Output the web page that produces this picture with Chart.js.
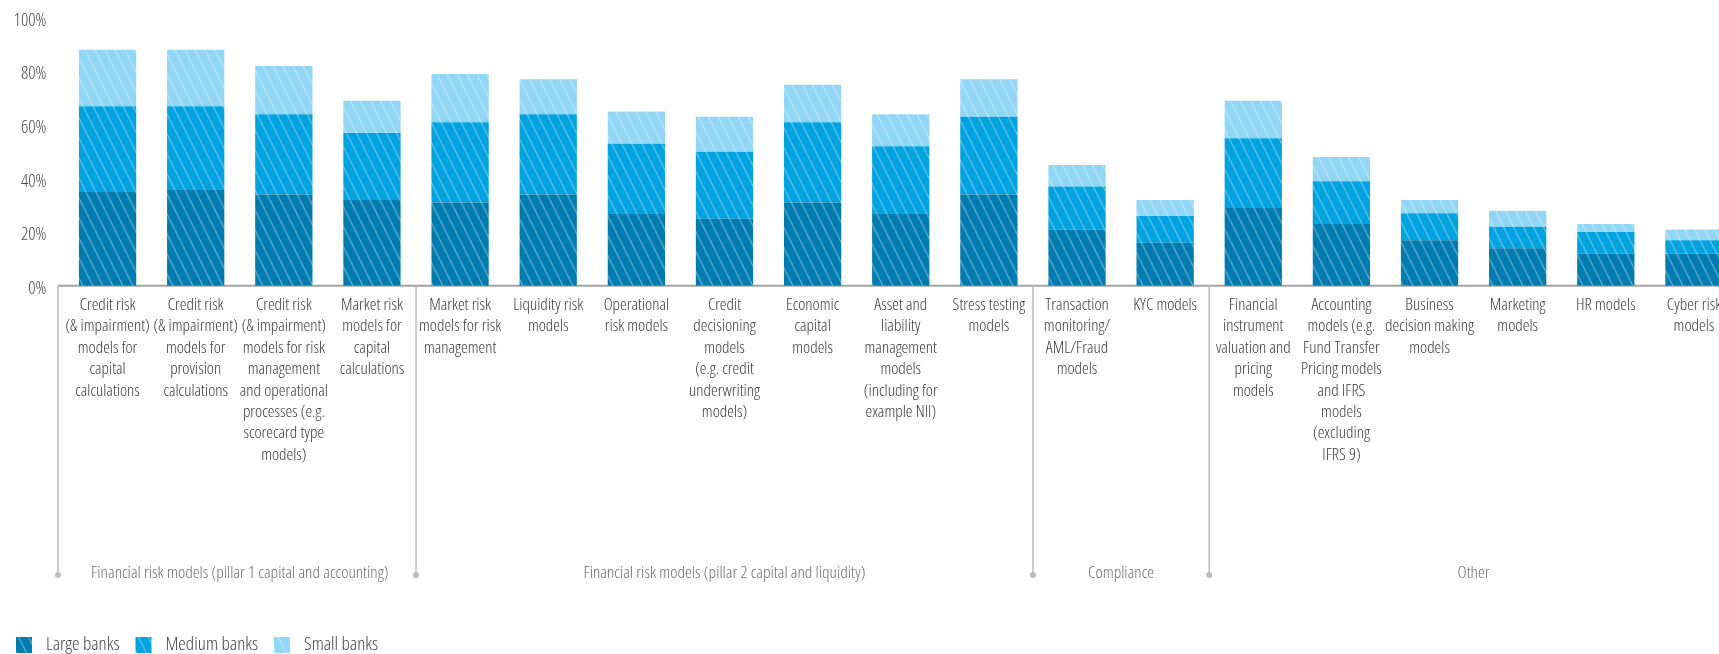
<!DOCTYPE html>
<html>
<head>
<meta charset="utf-8">
<script src="https://cdn.jsdelivr.net/npm/chart.js@4.4.1/dist/chart.umd.min.js"></script>
<style>
    html, body { margin: 0; padding: 0; background: #fff; overflow: hidden; }
    #wrap { width: 1738px; height: 654px; }
</style>
</head>
<body>
<div id="wrap"><canvas id="chart" width="1738" height="654"></canvas></div>
<script>
// Category labels, already broken into lines like the original
const categories = [
    ['Credit risk', '(& impairment)', 'models for', 'capital', 'calculations'],
    ['Credit risk', '(& impairment)', 'models for', 'provision', 'calculations'],
    ['Credit risk', '(& impairment)', 'models for risk', 'management', 'and operational', 'processes (e.g.', 'scorecard type', 'models)'],
    ['Market risk', 'models for', 'capital', 'calculations'],
    ['Market risk', 'models for risk', 'management'],
    ['Liquidity risk', 'models'],
    ['Operational', 'risk models'],
    ['Credit', 'decisioning', 'models', '(e.g. credit', 'underwriting', 'models)'],
    ['Economic', 'capital', 'models'],
    ['Asset and', 'liability', 'management', 'models', '(including for', 'example NII)'],
    ['Stress testing', 'models'],
    ['Transaction', 'monitoring/', 'AML/Fraud', 'models'],
    ['KYC models'],
    ['Financial', 'instrument', 'valuation and', 'pricing', 'models'],
    ['Accounting', 'models (e.g.', 'Fund Transfer', 'Pricing models', 'and IFRS', 'models', '(excluding', 'IFRS 9)'],
    ['Business', 'decision making', 'models'],
    ['Marketing', 'models'],
    ['HR models'],
    ['Cyber risk', 'models']
];

// Stacked segment values (%)
const largeBanks  = [35, 36, 34, 32, 31, 34, 27, 25, 31, 27, 34, 21, 16, 29, 23, 17, 14, 12, 12];
const mediumBanks = [32, 31, 30, 25, 30, 30, 26, 25, 30, 25, 29, 16, 10, 26, 16, 10,  8,  8,  5];
const smallBanks  = [21, 21, 18, 12, 18, 13, 12, 13, 14, 12, 14,  8,  6, 14,  9,  5,  6,  3,  4];

const seriesNames = ['Large banks', 'Medium banks', 'Small banks'];
const seriesColors = ['#007cb0', '#00a3e0', '#91d6f5'];

// Category groups shown under the axis
const groupNames = [
    'Financial risk models (pillar 1 capital and accounting)',
    'Financial risk models (pillar 2 capital and liquidity)',
    'Compliance',
    'Other'
];
const groupStarts = [0, 4, 11, 13];
const groupEnds = [3, 10, 12, 18];

const yTickStep = 20;

// Open Sans light, condensed width
const FONT = '"Open Sans", sans-serif';
const WEIGHT = '300 condensed';

function makeHatch(color) {
    // Diagonal white stripes over the solid colour
    const c = document.createElement('canvas');
    c.width = 10;
    c.height = 20;
    const g = c.getContext('2d');
    g.fillStyle = color;
    g.fillRect(0, 0, 10, 20);
    g.strokeStyle = 'rgba(255,255,255,0.3)';
    g.lineWidth = 1.6;
    for (const x0 of [-10, 0, 10]) {
        g.beginPath();
        g.moveTo(x0, 0);
        g.lineTo(x0 + 10, 20);
        g.stroke();
    }
    return g.createPattern(c, 'repeat');
}

const ctx = document.getElementById('chart').getContext('2d');
const patterns = seriesColors.map(makeHatch);

const decorPlugin = {
    id: 'decor',
    beforeDatasetsDraw(chart) {
        const { ctx, chartArea } = chart;
        const x = chart.scales.x;
        const axisY = chartArea.bottom;
        const half = (x.getPixelForValue(1) - x.getPixelForValue(0)) / 2;
        const bracketY = 575;

        ctx.save();

        // x axis line
        ctx.strokeStyle = '#a4a4a4';
        ctx.lineWidth = 2;
        ctx.beginPath();
        ctx.moveTo(chartArea.left - 5.5, axisY);
        ctx.lineTo(chart.width, axisY);
        ctx.stroke();

        // group separators with dots, and group names
        groupStarts.forEach((start, i) => {
            let sx = x.getPixelForValue(start) - half;
            if (i === 0) sx -= 5.5;
            ctx.strokeStyle = '#bdbdbd';
            ctx.lineWidth = 1.5;
            ctx.beginPath();
            ctx.moveTo(sx, axisY);
            ctx.lineTo(sx, bracketY);
            ctx.stroke();
            ctx.fillStyle = '#bdbdbd';
            ctx.beginPath();
            ctx.arc(sx, bracketY, 3, 0, Math.PI * 2);
            ctx.fill();

            const cx = (x.getPixelForValue(start) + x.getPixelForValue(groupEnds[i])) / 2;
            ctx.fillStyle = '#6e6e6e';
            ctx.font = WEIGHT + ' 17.3px ' + FONT;
            ctx.textAlign = 'center';
            ctx.textBaseline = 'middle';
            ctx.fillText(groupNames[i], cx, 573);
        });

        // legend
        let lx = 16;
        const ly = 637;
        ctx.font = WEIGHT + ' 19px ' + FONT;
        ctx.textAlign = 'left';
        ctx.textBaseline = 'middle';
        seriesNames.forEach((name, i) => {
            ctx.fillStyle = patterns[i];
            ctx.fillRect(lx, ly, 16, 16);
            ctx.fillStyle = '#444';
            ctx.fillText(name, lx + 30, ly + 8);
            lx += 30 + ctx.measureText(name).width + 16;
        });

        ctx.restore();
    }
};

const chart = new Chart(ctx, {
    type: 'bar',
    data: {
        labels: categories,
        datasets: [largeBanks, mediumBanks, smallBanks].map((values, i) => ({
            label: seriesNames[i],
            data: values,
            backgroundColor: patterns[i],
            borderWidth: 0,
            barPercentage: 0.65,
            categoryPercentage: 1
        }))
    },
    options: {
        responsive: false,
        animation: false,
        layout: {
            padding: { top: 17.7, left: 0, right: 0, bottom: 0 }
        },
        scales: {
            x: {
                stacked: true,
                grid: { display: false, drawTicks: false },
                border: { display: false },
                ticks: {
                    autoSkip: false,
                    maxRotation: 0,
                    minRotation: 0,
                    padding: 8.6,
                    color: '#3a3a3a',
                    font: { family: FONT, weight: WEIGHT, size: 17, lineHeight: 1.26 }
                },
                afterFit(scale) {
                    scale.height = 368.3;
                }
            },
            y: {
                stacked: true,
                min: 0,
                max: 100,
                // tick length gives the gap between labels and bars
                grid: { display: false, drawTicks: true, tickLength: 17 },
                border: { display: false },
                ticks: {
                    stepSize: yTickStep,
                    padding: 0,
                    labelOffset: 3,
                    color: '#4a4a4a',
                    font: { family: FONT, weight: WEIGHT, size: 18 },
                    callback: v => v + '%'
                },
                afterFit(scale) {
                    scale.width = 63.5;
                }
            }
        },
        plugins: {
            legend: { display: false },
            tooltip: { enabled: false }
        }
    },
    plugins: [decorPlugin]
});
</script>
</body>
</html>
